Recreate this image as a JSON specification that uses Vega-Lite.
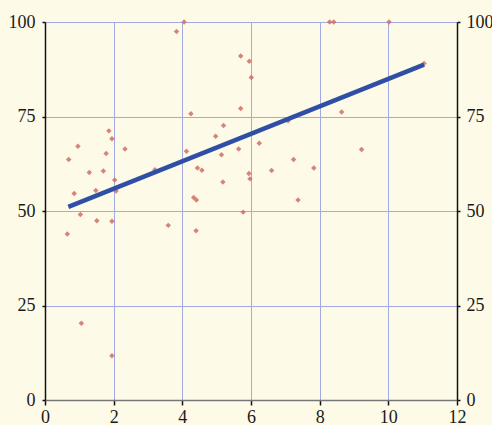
{
  "$schema": "https://vega.github.io/schema/vega-lite/v6.json",
  "width": 412,
  "height": 378,
  "autosize": {"type": "none"},
  "padding": {"left": 45, "top": 22, "right": 35, "bottom": 25},
  "background": "#fdfbe8",
  "config": {
    "view": {"stroke": null},
    "axis": {
      "labelFont": "Liberation Serif",
      "labelFontSize": 18,
      "labelColor": "#1a1a1a",
      "tickColor": "#111111",
      "domainColor": "#111111",
      "domainWidth": 1.5,
      "tickWidth": 1.5,
      "gridColor": "#a3a9e3",
      "gridWidth": 1,
      "gridOpacity": 1,
      "title": null
    }
  },
  "datasets": {
    "points": [
      {"x": 4.25, "y": 75.7}, {"x": 1.86, "y": 71.2}, {"x": 1.95, "y": 69.1}, {"x": 0.96, "y": 67.1},
      {"x": 1.78, "y": 65.2}, {"x": 2.33, "y": 66.4}, {"x": 0.69, "y": 63.6}, {"x": 4.12, "y": 65.8},
      {"x": 1.29, "y": 60.2}, {"x": 1.70, "y": 60.6}, {"x": 3.20, "y": 60.9}, {"x": 2.03, "y": 58.2},
      {"x": 1.48, "y": 55.4}, {"x": 2.07, "y": 55.3}, {"x": 0.85, "y": 54.6}, {"x": 4.33, "y": 53.6},
      {"x": 1.03, "y": 49.1}, {"x": 1.51, "y": 47.4}, {"x": 1.95, "y": 47.3}, {"x": 3.59, "y": 46.2},
      {"x": 0.65, "y": 43.9}, {"x": 5.20, "y": 72.6}, {"x": 4.97, "y": 69.8}, {"x": 7.08, "y": 73.9},
      {"x": 6.24, "y": 67.9}, {"x": 5.14, "y": 64.9}, {"x": 5.64, "y": 66.4}, {"x": 7.24, "y": 63.6},
      {"x": 4.44, "y": 61.4}, {"x": 4.57, "y": 60.8}, {"x": 6.60, "y": 60.7}, {"x": 7.83, "y": 61.4},
      {"x": 5.94, "y": 59.9}, {"x": 5.97, "y": 58.5}, {"x": 5.18, "y": 57.7}, {"x": 4.41, "y": 52.9},
      {"x": 7.37, "y": 52.9}, {"x": 5.77, "y": 49.7}, {"x": 4.40, "y": 44.8}, {"x": 8.64, "y": 76.2},
      {"x": 9.22, "y": 66.3}, {"x": 4.05, "y": 100}, {"x": 3.83, "y": 97.5}, {"x": 8.29, "y": 100},
      {"x": 8.41, "y": 100}, {"x": 5.70, "y": 91.0}, {"x": 5.95, "y": 89.6}, {"x": 6.01, "y": 85.3},
      {"x": 5.70, "y": 77.1}, {"x": 10.02, "y": 100}, {"x": 11.04, "y": 89.0}, {"x": 1.06, "y": 20.3},
      {"x": 1.95, "y": 11.7}
    ],
    "fit": [
      {"x": 0.68, "y": 51.1},
      {"x": 11.04, "y": 88.7}
    ]
  },
  "layer": [
    {
      "data": {"name": "points"},
      "mark": {"type": "point", "shape": "diamond", "filled": true, "size": 30, "color": "#cf6f66", "opacity": 0.85},
      "encoding": {
        "x": {
          "field": "x", "type": "quantitative",
          "scale": {"domain": [0, 12], "nice": false, "zero": true},
          "axis": {"values": [0, 2, 4, 6, 8, 10, 12], "grid": true, "gridColor": "#a3a9e3", "tickSize": 5, "labelPadding": 3, "domainColor": "#777777", "labelFlush": false}
        },
        "y": {
          "field": "y", "type": "quantitative",
          "scale": {"domain": [0, 100], "nice": false},
          "axis": {"orient": "left", "values": [0, 25, 50, 75, 100], "grid": true, "gridColor": "#a3a9e3", "tickSize": 3, "labelPadding": 7, "labelFlush": false}
        }
      }
    },
    {
      "data": {"name": "fit"},
      "mark": {"type": "line", "color": "#2f4fa6", "strokeWidth": 4.5, "strokeCap": "butt"},
      "encoding": {
        "x": {"field": "x", "type": "quantitative"},
        "y": {
          "field": "y", "type": "quantitative",
          "axis": {"orient": "right", "values": [0, 25, 50, 75, 100], "grid": false, "tickSize": 3, "labelPadding": 6, "labelFlush": false}
        }
      }
    }
  ],
  "resolve": {"axis": {"y": "independent"}}
}
